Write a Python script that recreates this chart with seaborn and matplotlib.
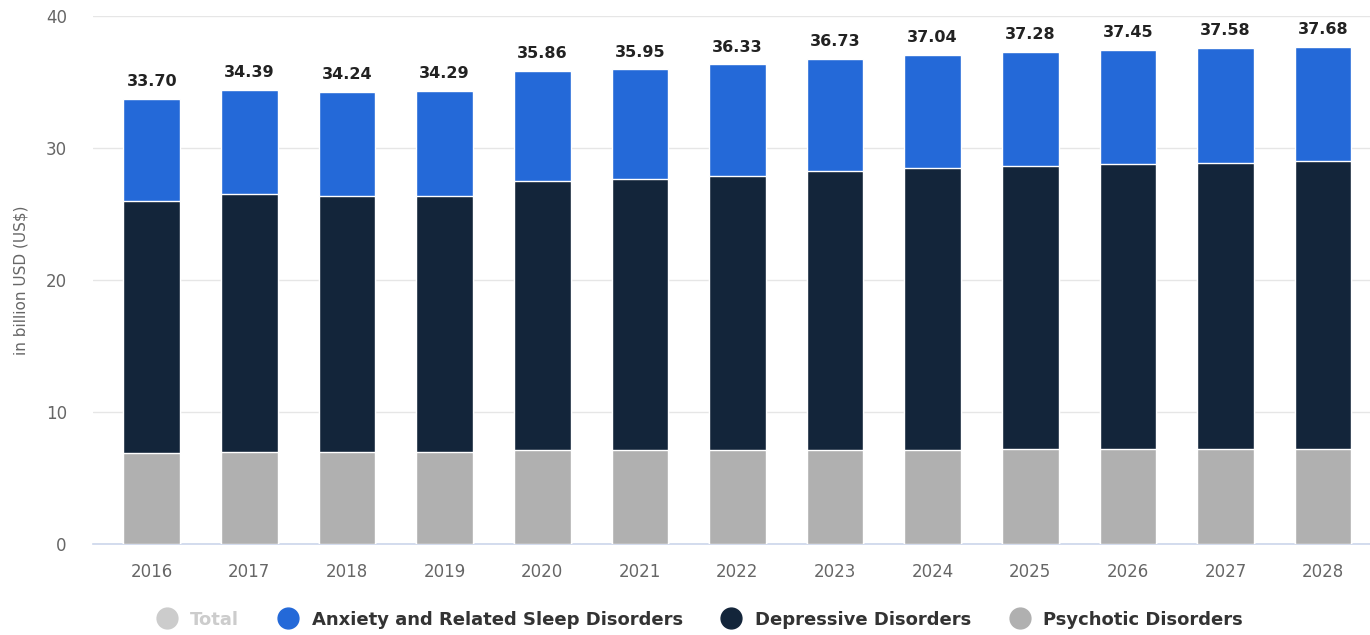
import numpy as np
import pandas as pd
import matplotlib
matplotlib.use("Agg")
import matplotlib.pyplot as plt
from matplotlib.lines import Line2D
import seaborn as sns

# --------------------------
# data (billion USD)
# --------------------------
years = ["2016", "2017", "2018", "2019", "2020", "2021", "2022",
         "2023", "2024", "2025", "2026", "2027", "2028"]
total = [33.70, 34.39, 34.24, 34.29, 35.86, 35.95, 36.33,
         36.73, 37.04, 37.28, 37.45, 37.58, 37.68]
psychotic = [6.87, 6.97, 6.97, 6.97, 7.10, 7.10, 7.10,
             7.10, 7.10, 7.22, 7.22, 7.22, 7.22]
depressive = [19.11, 19.52, 19.39, 19.39, 20.40, 20.53, 20.78,
              21.13, 21.38, 21.42, 21.54, 21.64, 21.77]
anxiety = [t - p - d for t, p, d in zip(total, psychotic, depressive)]

C_ANX = "#2469d8"
C_DEP = "#13253a"
C_PSY = "#b0b0b0"
C_TOT = "#cccccc"

df = pd.DataFrame({"year": years, "psy": psychotic, "dep": depressive, "anx": anxiety})
df["lvl1"] = df["psy"]
df["lvl2"] = df["psy"] + df["dep"]
df["lvl3"] = df["lvl2"] + df["anx"]

sns.set_style("white")
plt.rcParams["font.family"] = ["DejaVu Sans"]

fig = plt.figure(figsize=(13.7, 6.35), dpi=100)
ax = fig.add_axes([0.068, 0.1433, 0.932, 0.8315])

# stacked by overlaying cumulative heights, tallest first
for col, color in [("lvl3", C_ANX), ("lvl2", C_DEP), ("lvl1", C_PSY)]:
    sns.barplot(data=df, x="year", y=col, color=color, width=0.58,
                edgecolor="white", linewidth=1.0, saturation=1, ax=ax, zorder=3)

for i, t in enumerate(total):
    ax.text(i, t + 0.75, f"{t:.2f}", ha="center", va="bottom",
            fontsize=11.5, fontweight="bold", color="#222222")

ax.set_ylim(0, 40)
ax.set_xlim(-0.6, 12.48)
ax.set_yticks([0, 10, 20, 30, 40])
ax.grid(axis="y", color="#e6e6e6", linewidth=1, zorder=0)
ax.set_axisbelow(True)
for s in ["top", "right", "left"]:
    ax.spines[s].set_visible(False)
ax.spines["bottom"].set_color("#ccd6eb")
ax.spines["bottom"].set_linewidth(1.2)
ax.tick_params(axis="x", colors="#ccd6eb", length=8, width=1.2, pad=6,
               labelcolor="#666666", labelsize=12)
ax.tick_params(axis="y", length=0, pad=19, labelcolor="#666666", labelsize=12)
ax.set_xlabel("")
ax.set_ylabel("in billion USD (US$)", fontsize=11, color="#666666", labelpad=12)

handles = [
    Line2D([], [], marker="o", linestyle="", markersize=15, color=C_TOT),
    Line2D([], [], marker="o", linestyle="", markersize=15, color=C_ANX),
    Line2D([], [], marker="o", linestyle="", markersize=15, color=C_DEP),
    Line2D([], [], marker="o", linestyle="", markersize=15, color=C_PSY),
]
labels = ["Total", "Anxiety and Related Sleep Disorders", "Depressive Disorders", "Psychotic Disorders"]
leg = fig.legend(handles, labels, loc="center", bbox_to_anchor=(0.508, 0.024), ncol=4,
                 frameon=False, fontsize=13, handletextpad=0.3, columnspacing=1.7)
for i, txt in enumerate(leg.get_texts()):
    txt.set_fontweight("semibold")
    txt.set_color("#cccccc" if i == 0 else "#333333")

fig.savefig("out.png", dpi=100)
